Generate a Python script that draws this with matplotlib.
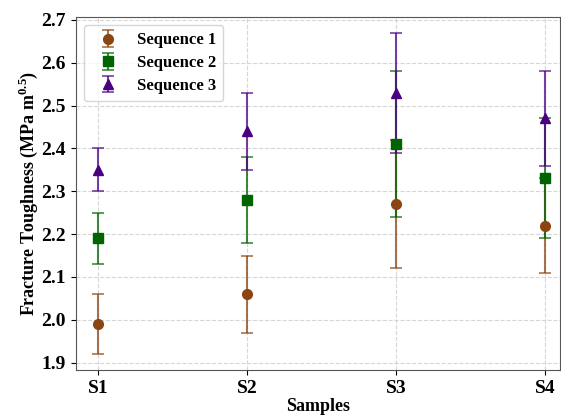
import matplotlib.pyplot as plt

plt.rcParams['font.family'] = ['Liberation Serif', 'DejaVu Serif']
plt.rcParams['mathtext.fontset'] = 'custom'
plt.rcParams['mathtext.rm'] = 'Liberation Serif'
plt.rcParams['mathtext.bf'] = 'Liberation Serif:bold'

samples = ["S1", "S2", "S3", "S4"]

seq1_mean = [1.99, 2.06, 2.27, 2.22]
seq1_err = [0.07, 0.09, 0.15, 0.11]

seq2_mean = [2.19, 2.28, 2.41, 2.33]
seq2_err = [0.06, 0.10, 0.17, 0.14]

seq3_mean = [2.35, 2.44, 2.53, 2.47]
seq3_err = [0.05, 0.09, 0.14, 0.11]

series = [
    ("Sequence 1", seq1_mean, seq1_err, "o", "#8B4513"),
    ("Sequence 2", seq2_mean, seq2_err, "s", "#006400"),
    ("Sequence 3", seq3_mean, seq3_err, "^", "#4B0082"),
]

fig, ax = plt.subplots(figsize=(5.61, 4.15), dpi=100)
x = range(len(samples))

for label, mean, err, marker, color in series:
    eb = ax.errorbar(x, mean, yerr=err, fmt=marker, color=color, ecolor=color,
                     markersize=7, capsize=4, elinewidth=1.5, capthick=1.2,
                     label=label)
    for line in eb[1]:
        line.set_alpha(0.75)
    for col in eb[2]:
        col.set_alpha(0.75)

ax.set_xticks(list(x))
ax.set_xticklabels(samples)
ax.set_xlim(-0.15, 3.1)
ax.set_ylim(1.8825, 2.7075)
ax.set_yticks([1.9, 2.0, 2.1, 2.2, 2.3, 2.4, 2.5, 2.6, 2.7])

ax.set_xlabel("Samples", fontsize=13, fontweight="bold", labelpad=1)
ax.set_ylabel(r"Fracture Toughness (MPa m$^{\mathbf{0.5}}$)", fontsize=13,
              fontweight="bold", labelpad=1)
for lbl in ax.get_xticklabels() + ax.get_yticklabels():
    lbl.set_fontweight("bold")
    lbl.set_fontsize(14)

ax.grid(True, linestyle="--", color="#cccccc", alpha=0.8)
for s in ax.spines.values():
    s.set_color("#555555")

leg = ax.legend(loc="upper left", prop={"weight": "bold", "size": 12},
                handletextpad=0.7, borderpad=0.45, labelspacing=0.4,
                borderaxespad=0.5, handlelength=2.0)

fig.subplots_adjust(left=0.135, right=0.998, top=0.96, bottom=0.108)
fig.savefig("out.png", dpi=100)
